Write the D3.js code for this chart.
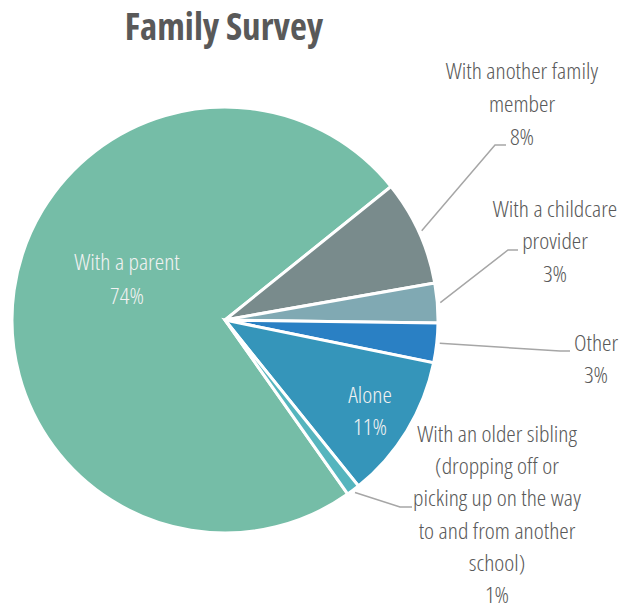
<!DOCTYPE html>
<html>
<head>
<meta charset="utf-8">
<script src="https://cdn.jsdelivr.net/npm/d3@7/dist/d3.min.js"></script>
<style>
  html, body { margin: 0; padding: 0; background: #ffffff; }
  svg text { font-family: "Open Sans", "Liberation Sans Narrow", sans-serif; font-stretch: condensed; }
</style>
</head>
<body>
<svg id="chart" width="619" height="610"></svg>
<script>
// Survey responses: how the child gets to and from school
const categories = [
  "With a parent",
  "With another family member",
  "With a childcare provider",
  "Other",
  "Alone",
  "With an older sibling (dropping off or picking up on the way to and from another school)"
];
const shares = [74, 8, 3, 3, 11, 1];
const colors = ["#75bda7", "#798b8c", "#80a9b3", "#2a80c4", "#3595ba", "#55b5be"];

// Wrapped label text for each slice
const labelLines = [
  ["With a parent", "74%"],
  ["With another family", "member", "8%"],
  ["With a childcare", "provider", "3%"],
  ["Other", "3%"],
  ["Alone", "11%"],
  ["With an older sibling", "(dropping off or", "picking up on the way", "to and from another", "school)", "1%"]
];

const svg = d3.select("#chart");
const cx = 225, cy = 320, radius = 213;
const deg = Math.PI / 180;

svg.append("text")
  .attr("x", 224).attr("y", 40)
  .attr("text-anchor", "middle")
  .attr("fill", "#595959")
  .style("font-size", "37px")
  .style("font-weight", 700)
  .text("Family Survey");

const pie = d3.pie().sort(null).value(d => d)
  .startAngle(-215.2 * deg).endAngle(144.8 * deg);
const arcs = pie(shares);

const arc = d3.arc().innerRadius(0).outerRadius(radius);
const g = svg.append("g").attr("transform", `translate(${cx},${cy})`);

g.selectAll("path.slice")
  .data(arcs)
  .join("path")
  .attr("class", "slice")
  .attr("d", arc)
  .attr("fill", (d, i) => colors[i])
  .attr("stroke", "#ffffff")
  .attr("stroke-width", 3)
  .attr("stroke-linejoin", "miter");

// Label placement: inside slices or outside with a leader line
const layout = [
  { inside: true, x: 127, y: 270 },
  { x: 522, y: 79, elbow: [495, 145], end: [506, 145] },
  { x: 555, y: 217, elbow: [508, 250], end: [518, 250] },
  { x: 596, y: 351, elbow: [560, 351], end: [570, 351] },
  { inside: true, x: 370, y: 403 },
  { x: 497, y: 442, elbow: [400, 507], end: [412, 507] }
];
const lineStep = [34, 33, 32.5, 32, 32, 32.2];

const lineStart = d3.arc().innerRadius(216).outerRadius(216);

arcs.forEach((a, i) => {
  const L = layout[i];
  if (!L.inside) {
    const p = lineStart.centroid(a);
    svg.append("polyline")
      .attr("points", [[p[0] + cx, p[1] + cy], L.elbow, L.end].map(q => q.join(",")).join(" "))
      .attr("fill", "none")
      .attr("stroke", "#a6a6a6")
      .attr("stroke-width", 1.5);
  }
  // slightly widen the condensed face around each label's centre line
  const t = svg.append("g")
    .attr("transform", `translate(${L.x},0) scale(1.06,1)`)
    .append("text")
    .attr("text-anchor", "middle")
    .attr("fill", L.inside ? "#f2f2f2" : "#595959")
    .style("font-size", "22.5px")
    .style("font-weight", 300);
  labelLines[i].forEach((s, k) => {
    t.append("tspan").attr("x", 0).attr("y", L.y + k * lineStep[i]).text(s);
  });
});
</script>
</body>
</html>
